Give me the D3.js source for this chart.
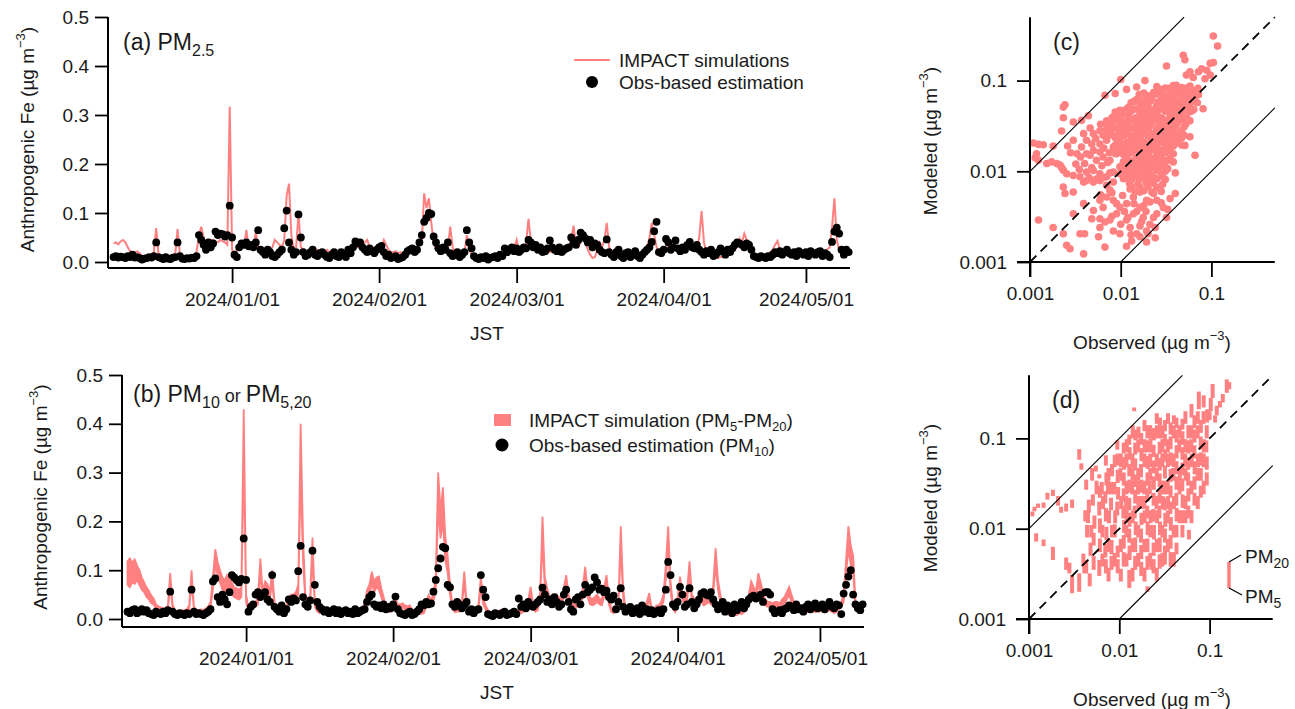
<!DOCTYPE html>
<html>
<head>
<meta charset="utf-8">
<script src="https://cdn.jsdelivr.net/npm/d3@7"></script>
<style>
  body { margin: 0; background: #fff; }
  svg { font-family: "Liberation Sans", Arial, sans-serif; }
</style>
</head>
<body>
<svg width="1295" height="709"></svg>
<script>
const svg = d3.select("svg");
const pink = "#ff8080";

// time series, ng m-3, one value every 12 h starting 2023-12-07 00:00
const obsPM25 = [
  10,12, 9,11, 10,8, 12,10, 15,9,
  10,8, 5,7, 8,10, 9,12, 40,10,
  8,6, 10,7, 6,9, 10,40, 12,7,
  6,8, 7,9, 8,12, 55,45, 35,25,
  40,30, 38,62, 55,58, 57,52, 55,115,
  50,15, 10,30, 38,35, 40,32, 35,30,
  40,65, 25,20, 15,25, 20,12, 10,15,
  20,25, 69,105, 40,25, 15,20, 97,50,
  20,12, 15,20, 25,15, 12,18, 20,15,
  10,8, 15,20, 12,10, 20,15, 10,25,
  18,30, 42,38, 40,30, 25,20, 28,22,
  18,25, 30,33, 20,12, 15,8, 10,12,
  6,8, 10,15, 22,25, 28,20, 25,40,
  55,82, 90,100, 98,52, 40,28, 22,30,
  25,40, 18,12, 15,20, 10,15, 20,65,
  40,28, 12,8, 6,10, 8,12, 5,9,
  10,12, 8,15, 12,28, 20,25, 30,22,
  28,20, 25,30, 28,45, 40,30, 35,25,
  30,20, 22,28, 44,30, 25,22, 30,20,
  25,28, 30,50, 40,35, 45,60, 55,48,
  40,45, 30,38, 35,25, 20,18, 46,20,
  15,10, 20,25, 12,8, 18,20, 10,15,
  22,12, 8,15, 20,25, 30,41, 63,82,
  20,18, 25,47, 40,25, 30,44, 28,22,
  30,25, 35,41, 30,28, 35,25, 20,15,
  22,18, 25,12, 15,20, 28,22, 15,25,
  20,28, 35,40, 38,35, 30,38, 35,25,
  12,10, 8,12, 10,8, 12,10, 15,20,
  18,22, 15,20, 25,18, 15,20, 12,22,
  18,15, 20,12, 22,18, 15,20, 22,12,
  18,15, 10,41, 62,70, 58,25, 15,25,
  20
];
const simPM25 = [
  38,40, 36,42, 45,40, 30,22, 20,18,
  22,18, 12,10, 9,8, 10,20, 69,15,
  10,8, 8,8, 9,10, 15,67, 15,10,
  8,8, 10,10, 12,20, 55,72, 50,35,
  40,45, 45,42, 40,45, 42,40, 35,317,
  25,15, 25,30, 28,30, 65,30, 30,28,
  62,30, 25,22, 20,20, 25,30, 45,40,
  35,30, 45,135, 160,55, 25,30, 100,30,
  25,22, 20,25, 22,20, 25,22, 20,22,
  25,20, 22,25, 20,18, 22,25, 20,22,
  30,35, 35,30, 30,32, 40,45, 30,22,
  20,20, 25,30, 45,35, 25,20, 20,22,
  18,20, 15,18, 15,18, 20,18, 25,35,
  40,140, 110,130, 80,40, 25,20, 20,20,
  22,30, 72,30, 18,15, 15,18, 20,55,
  25,15, 12,10, 10,12, 10,8, 10,12,
  12,10, 12,15, 15,12, 15,18, 20,30,
  45,22, 20,25, 40,88, 40,30, 30,28,
  25,30, 25,22, 20,25, 30,28, 25,22,
  20,25, 30,45, 74,35, 30,40, 58,40,
  25,15, 8,10, 25,40, 30,45, 80,30,
  20,18, 20,22, 25,20, 18,20, 22,25,
  20,18, 20,22, 25,30, 50,80, 55,30,
  20,22, 25,28, 30,25, 28,30, 25,28,
  30,25, 28,30, 25,30, 30,50, 104,40,
  20,15, 12,10, 8,8, 10,12, 12,15,
  15,20, 25,30, 48,40, 58,45, 30,25,
  20,15, 15,15, 15,12, 15,20, 25,35,
  43,25, 20,18, 20,22, 18,20, 22,18,
  20,22, 18,20, 22,20, 20,18, 22,20,
  18,25, 30,70, 130,45, 25,15, 12,15,
  20
];
const obsPM10 = [
  15,12, 18,20, 12,15, 20,15, 18,12,
  10,8, 15,12, 10,15, 12,18, 56,15,
  10,8, 12,10, 8,12, 10,60, 15,10,
  12,10, 8,12, 15,20, 77,83, 45,35,
  50,40, 30,55, 90,85, 80,75, 82,165,
  80,15, 25,30, 50,55, 45,52, 55,40,
  35,90, 25,20, 15,28, 12,20, 40,35,
  42,38, 98,150, 45,30, 25,38, 140,70,
  35,25, 20,15, 18,12, 15,20, 12,18,
  10,15, 18,12, 15,10, 20,12, 15,18,
  20,35, 45,50, 30,25, 28,22, 30,20,
  25,22, 30,46, 20,12, 10,8, 12,15,
  8,10, 15,20, 30,28, 35,30, 32,56,
  80,104, 124,148, 145,70, 65,30, 25,35,
  30,22, 28,35, 15,20, 12,18, 20,90,
  60,45, 10,8, 6,12, 10,8, 12,15,
  8,10, 12,15, 10,42, 25,30, 22,35,
  28,25, 30,35, 40,64, 50,35, 40,30,
  45,35, 25,30, 50,60, 35,20, 15,40,
  45,30, 50,70, 55,60, 65,85, 75,60,
  62,55, 58,45, 40,48, 20,35, 63,25,
  15,20, 25,12, 18,22, 10,28, 15,20,
  12,18, 10,15, 18,12, 20,60, 117,90,
  30,25, 35,66, 50,25, 30,63, 35,22,
  30,40, 52,55, 50,48, 55,40, 30,20,
  25,35, 15,28, 20,12, 30,18, 25,35,
  22,30, 40,45, 48,42, 45,50, 35,55,
  55,50, 20,12, 15,18, 12,20, 22,28,
  25,18, 30,20, 22,15, 25,30, 20,28,
  32,22, 25,30, 20,28, 35,25, 22,30,
  28,10, 52,70, 87,100, 50,30, 22,18,
  30
];
const simPM5 = [
  70,65, 75,72, 80,70, 60,55, 45,40,
  32,30, 20,18, 16,15, 15,18, 70,20,
  12,10, 10,12, 12,14, 18,75, 18,12,
  12,14, 12,15, 18,25, 60,110, 90,75,
  60,55, 60,55, 50,45, 42,40, 45,330,
  35,15, 20,25, 25,30, 95,40, 55,50,
  40,75, 25,15, 12,14, 15,18, 30,35,
  35,40, 50,290, 120,35, 25,30, 125,25,
  15,12, 14,15, 12,14, 15,12, 14,15,
  12,14, 15,12, 14,15, 12,14, 15,16,
  20,40, 45,75, 55,65, 60,45, 30,15,
  14,15, 25,30, 22,20, 22,20, 18,20,
  14,12, 10,12, 10,12, 25,35, 30,35,
  60,230, 165,200, 120,95, 50,20, 14,15,
  15,25, 75,25, 10,12, 10,12, 20,65,
  30,20, 12,10, 8,8, 10,12, 8,10,
  12,10, 8,12, 10,14, 12,15, 20,30,
  50,22, 15,18, 40,160, 60,45, 30,28,
  25,30, 30,28, 45,70, 35,25, 20,22,
  30,30, 45,85, 45,30, 28,30, 35,30,
  28,45, 70,30, 15,12, 20,25, 145,45,
  15,14, 12,14, 15,12, 14,20, 15,25,
  40,15, 14,20, 20,25, 35,80, 145,55,
  20,14, 30,65, 40,25, 40,90, 35,30,
  28,30, 35,28, 30,35, 30,50, 110,60,
  35,20, 12,10, 8,10, 10,8, 12,10,
  14,20, 35,58, 45,40, 70,55, 40,28,
  25,25, 22,25, 25,22, 28,30, 40,50,
  35,25, 15,14, 15,18, 15,14, 18,15,
  14,15, 15,18, 14,15, 18,15, 12,15,
  20,25, 35,90, 145,110, 95,25, 15,15,
  20
];
const simPM20 = [
  118,124, 115,122, 110,100, 85,75, 65,58,
  48,42, 30,26, 24,22, 22,28, 94,30,
  18,16, 16,18, 18,20, 28,100, 26,18,
  18,20, 18,22, 25,35, 85,143, 117,100,
  85,80, 90,82, 75,65, 63,60, 65,430,
  50,25, 30,35, 35,45, 124,55, 77,72,
  55,100, 35,22, 20,20, 22,25, 45,50,
  50,55, 70,400, 170,50, 38,45, 167,35,
  22,20, 20,22, 18,20, 22,18, 20,22,
  18,20, 22,18, 20,22, 18,22, 22,24,
  30,60, 70,97, 77,85, 87,63, 45,22,
  20,22, 35,42, 30,30, 32,28, 26,28,
  20,18, 15,16, 15,18, 35,49, 40,49,
  90,300, 220,270, 170,130, 70,30, 20,22,
  22,35, 97,35, 15,18, 15,18, 30,87,
  42,28, 18,15, 12,12, 15,18, 12,14,
  18,14, 12,18, 14,20, 18,22, 28,40,
  66,32, 22,25, 55,210, 85,63, 45,40,
  35,50, 45,40, 65,90, 50,35, 30,32,
  42,42, 65,107, 63,45, 40,45, 50,42,
  40,65, 90,42, 22,18, 30,35, 190,63,
  22,20, 18,20, 22,18, 20,28, 22,35,
  53,22, 20,28, 28,35, 50,110, 190,77,
  30,20, 45,87, 55,35, 60,118, 50,42,
  40,45, 50,40, 45,50, 42,70, 145,80,
  50,28, 18,15, 12,14, 15,12, 18,15,
  20,30, 50,77, 66,55, 94,75, 55,40,
  35,35, 32,35, 35,32, 40,45, 55,66,
  50,35, 22,20, 22,26, 22,20, 26,22,
  20,22, 22,26, 20,22, 26,22, 18,22,
  28,35, 50,120, 190,150, 130,35, 22,22,
  28
];

// scatter (c): [observed, modeled] PM2.5, ng m-3
const scatterPM25 = [
  [1.09,20.5],[1.24,19.8],[1.4,19.6],[1.18,15.6],[1.14,14.1],[1.24,13.2],[1.53,12.2],[1.73,12.7],[1.97,12.2],[1.8,19],
  [2.23,27.8],[2.33,39],[2.43,54],[2.33,51],[3.0,35],[3.7,36.5],[4.4,41],[6.7,69],[8.7,72],[11.6,80],
  [10,103],[15,85],[18.5,100],[19.3,66],[2.14,11.7],[2.23,11.0],[2.33,10.3],[2.54,9.4],[3.0,9.0],[3.9,7.6],
  [2.33,6.7],[2.43,5.7],[3.0,5.9],[3.9,4.4],[3.0,3.4],[1.24,2.9],[1.8,2.4],[2.33,2.05],[2.54,1.53],[2.76,1.4],
  [3.56,2.05],[4.0,2.05],[3.9,1.23],[4.8,3.0],[5.9,3.0],[6.7,2.76],[7.6,2.9],[5.7,1.9],[6.7,1.46],[11.6,1.49],
  [13.2,1.7],[16.3,2.5],[19.3,2.2],[19.3,1.66],[24,1.85],[32,3.1],[40,5.7],[40,9.6],[66,15],[81,49],
  [51,19.3],[32,22],[105,310],[117,240],[49,190],[51,170],[105,158],[97,155],[32,145],[78,135],
  [89,130],[72,125],[58,125],[53,115],[97,115],[63,108],[41,89],[85,105],
  [5.9,4.8],[7,5.2],[8.3,4.8],[9.8,4.0],[11.6,4.4],[13.8,5.2],[16.3,4.0],[19.3,4.8],[23,5.7],[25,3.4],
  [13.8,3.4],[17.7,3.1],[9,3.4],[11.6,2.9],[15,2.05],[12.7,2.4],[21,2.6],[23,3.1],[16.3,5.9],[12.7,6.4],
  [27,6.7],[29.5,4.0],[21,7.9],[25,4.8],[7.6,6.2],[6.4,4.0],[5,3.7],[5.9,2.4],[8.3,2.2],[9.8,2.05],
  [16.3,1.9],[20,2.05],
  [6,5.5],[8,5.8],[10.5,5.4],[9,4.4],[14,4.4],[18,4.2],[21,4.6],[11,3.6],[15,3.6],[19,3.6],
  [28,4.5],[33,3.8],[35,5.0],[8,3.2],[12,3.1],[17,2.8],[24,2.4],[13,2.0],[10,2.6],
  [3.56,8.7],[4.2,7.9],[5,7.6],[5.9,7.9],[7,8.7],[8.3,7.6],[9.8,9.4],[5,10.2],[5.9,9.4],[4.2,9.8],
  [7,7],[8.3,9.8],[4,12.2],[5.4,13.2],[6.4,14.4],[4.6,15],[3.7,18.5],[4.2,22],[5,26],[5.9,28],
  [7,33.5],[8.3,39.6],[5.9,20],[7,22],[8.3,18.5],[5.9,16.3],[7.6,13.2],[9,15.6],[9.8,11.2],[3.9,26],
  [3.3,15.6],[4.2,15.6],[3.0,22],[3.6,14.4],[4.8,20],[9.8,47],
  [4.5,8.5],[5.4,8.2],[6.4,8.5],[7.6,9.6],[4.8,11],[6.2,11.5],[7.2,12.5],[5,17],[6.5,18],[7.5,16],
  [5.3,23],[6.4,25],[7.6,27],[4.6,30],[6,33],[8,30],[3.5,10.5],[3.2,12],[2.8,16],[2.6,19],
  [25,86],[31,83],[38,88],[47,84],[58,87],[71,82],[28,76],[35,78],[42,75],[52,79],[65,77],
  [16,70],[20,68],[25,71],[31,67],[38,70],[47,69],[58,66],[72,70],
  [15,62],[18,60],[22,63],[28,61],[35,64],[42,60],[52,62],[65,61],
  [13,57],[16.5,55],[20,56],[25,54],[31,57],[38,55],[47,56],[58,54],[70,57],
  [12,50],[15,49],[18,51],[22,48],[28,50],[35,52],[42,49],[52,50],[64,48],
  [8.7,45],[10.8,44],[13,46],[16.3,43],[20,45],[25,44],[31,46],[38,45],[47,43],[57,45],
  [9.7,40],[12,41],[14.8,39],[18,41],[22,40],[28,39],[35,41],[42,40],[52,39],
  [7,36],[8.7,37],[10.7,35],[13.2,37],[16.3,36],[20,35],[25,37],[31,36],[38,35],[47,37],[58,36],
  [7.8,33],[9.7,32],[11.8,34],[14.8,33],[18,32],[22,34],[28,33],[35,32],[42,34],[52,33],
  [7,29],[8.7,30],[10.7,29],[13.2,30],[16.3,28.5],[20,30],[25,29],[31,30],[38,29],[47,28.5],
  [7.8,26.5],[9.7,26],[11.8,27],[14.8,26],[18,27],[22,26],[28,26.5],[35,27],[42,26],
  [7,24],[8.7,23.5],[10.7,24.5],[13.2,23.5],[16.3,24],[20,24.5],[25,23.5],[31,24],[38,24.5],[47,23.5],[58,24],
  [9.7,21.5],[11.8,21],[14.8,22],[18,21],[22,21.5],[28,22],[35,21],[42,21.5],
  [8.7,19.4],[10.7,19],[13.2,19.8],[16.3,19],[20,19.6],[25,19.2],[31,19.8],[38,19],[47,19.5],
  [9.7,17.5],[11.8,17.2],[14.8,17.8],[18,17.3],[22,17.6],[28,17.2],[35,17.8],
  [8.7,15.7],[10.7,15.4],[13.2,16],[16.3,15.5],[20,15.8],[25,15.4],[31,16],[38,15.6],
  [11.8,14],[14.8,13.8],[18,14.2],[22,13.8],[28,14.1],[35,13.9],
  [10.7,12.7],[13.2,12.5],[16.3,12.9],[20,12.5],[25,12.8],[31,12.6],[38,12.7],
  [11.8,11.4],[14.8,11.2],[18,11.6],[22,11.3],[28,11.5],
  [10.7,10.2],[13.2,10],[16.3,10.4],[20,10.1],[25,10.3],[31,10],
  [11.8,9.2],[14.8,9],[18,9.3],[22,9.1],[28,9.2],
  [10.7,8.3],[13.2,8.1],[16.3,8.4],[20,8.2],[25,8.3],[31,8.1],
  [13.2,6.7],[16.3,6.6],[20,6.8],[25,6.6],
  [27,80],[34,82],[43,81],[53,83],[18,73],[23,74],[29,72],[36,73],[44,72],[55,74],[66,73],
  [14,59],[17.5,58],[21,59],[26,58],[32,59],[40,58],[49,58],[60,59],
  [11,47],[13.8,48],[17,47],[21,47],[26,47],[32,48],[40,47],[49,47],[60,46],
  [8,39],[10,38],[12.5,39],[15.5,38],[19,38],[23,39],[29,38],[36,38],[44,38],[54,38],
  [7.4,31],[9.2,31],[11.3,31.5],[14,31],[17,31],[21,31.5],[26,31],[33,31],[40,31.5],[50,31],
  [7.4,25],[9.2,25],[11.3,25.5],[14,25],[17,25.5],[21,25],[26,25],[33,25.5],[40,25],[50,25],
  [9.2,20.3],[11.3,20],[14,20.5],[17,20],[21,20.3],[26,20.5],[33,20],[40,20.3],
  [9.2,16.6],[11.3,16.4],[14,16.8],[17,16.4],[21,16.7],[26,16.4],[33,16.8],
  [11.3,13.3],[14,13.1],[17,13.5],[21,13.2],[26,13.4],[33,13.2],
  [11.3,10.8],[14,10.6],[17,11],[21,10.7],[26,10.9],[33,10.7],
  [12.5,8.7],[15.5,8.6],[19,8.8],[23,8.6],[29,8.7],
  [12.5,7.4],[15.5,7.3],[19,7.5],[23,7.4],[29,7.2],
  [14.5,6],[18,6.1],[22,5.9],[28,6]
];

// scatter (d): [observed PM10, modeled PM5, modeled PM20], ng m-3
const scatterPM10 = [
  [3.6,58,76],[3.8,45,53],[3.6,2.0,3.2],[4.3,27,35],[4.3,3.2,4.5],[4.4,8,11],[4.2,12,16],
  [4.7,2.3,3.2],[4.8,5,7],[4.6,15,21],[5.2,3.5,5],[5.2,6.5,9],[5.3,10,14],[5.1,18,24],[5.5,43,50],
  [6,3,4.5],[6.1,5.5,7.8],[6,36,40],[6.1,9,13],[6.0,14,20],[6.1,22,30],
  [7.1,3.2,4.6],[7,4.8,6.8],[7.2,7.5,10.5],[7.1,12,17],[7,19,26],[7.2,30,42],[7.1,50,65],
  [8.2,3.5,5],[8.2,5.2,7.5],[8.3,8,11],[8.1,16,22],[8.2,24,33],[8.3,38,52],
  [9.6,3.2,4.6],[9.6,4.8,6.5],[9.5,14,20],[9.7,21,29],[9.6,32,45],[9.6,50,68],[9.5,75,95],
  [11.2,3.8,5.5],[11.2,6,8.5],[11.3,9,12.5],[11.1,13,18],[11.2,20,28],[11.2,30,42],[11.3,45,62],[11.2,68,90],
  [12.9,2.2,3.5],[13,4.5,6.5],[12.9,7,10],[13,10.5,15],[12.9,16,22],[13,25,35],[12.9,38,52],[13,58,80],[12.9,85,110],
  [14.6,200,220],[15,3.5,5],[15,5.5,8],[15.2,8.5,12],[14.8,13,18],[15,19,27],[15.1,29,40],[15,44,60],[15,66,90],[15.1,95,125],
  [17.5,3,4.3],[17.5,4.6,6.6],[17.4,7,10],[17.6,11,15],[17.5,16.5,23],[17.5,25,35],[17.4,37,52],[17.6,56,78],[17.5,85,115],
  [20.5,2,2.3],[20.5,3.5,5],[20.5,5.5,7.8],[20.6,8.5,12],[20.4,13,18],[20.5,20,28],[20.5,30,42],[20.6,46,64],[20.4,70,95],[20.5,100,140],
  [24,3.2,4.6],[24,5,7],[24.2,7.6,11],[23.8,12,16.5],[24,18,25],[24.1,27,38],[24,41,57],[24,62,85],[24.1,95,130],
  [28,3.6,5.2],[28,5.5,8],[28.2,8.5,12],[27.8,13,18],[28,19,27],[28,29,41],[28.1,44,61],[28,67,92],[28,100,140],[28.2,140,170],
  [32,4.5,6.5],[32,7,10],[32.3,10.5,15],[31.8,16,22],[32,24,34],[32,36,50],[32.2,55,76],[32,82,112],[32,120,160],
  [37,3.8,5.5],[37,6,8.5],[37.2,9.5,13.5],[36.8,14.5,20],[37,22,30],[37,33,46],[37.1,50,70],[37,76,105],[37,110,150],
  [43,5.2,7],[43,8,11],[43.2,12,17],[42.8,18,25],[43,27,38],[43,40,56],[43.1,60,84],[43,90,125],[43,130,170],
  [50,8,11],[50,11.5,16],[50.3,17,24],[49.8,26,36],[50,39,54],[50,58,80],[50.1,85,120],[50,125,165],
  [59,7.6,9.7],[58,13,18],[58.2,20,28],[57.8,30,42],[58,45,62],[58,68,95],[58.1,100,140],
  [68,18,25],[68,27,38],[68.3,40,56],[67.8,60,84],[68,90,125],[68,130,180],
  [80,22,30],[80,34,47],[80.2,50,70],[79.8,75,105],[80,115,160],
  [93,30,42],[93,45,63],[92,70,95],[93,100,140],[94,150,210],
  [103,200,280],[108,280,400],[76,210,330],[120,180,230],[115,150,180],[155,320,450],[165,350,420],[140,250,310],[130,220,260],[100,160,200],
  [1.09,13.7,15.5],[1.15,15.6,17.5],[1.26,17,19],[1.45,17,19.5],[1.6,21,25],[1.84,23,27],[2.1,18,23],[2.27,15,17.5],[2.58,15.5,19],[3,17,21],
  [1.2,7.2,8.9],[1.45,6.4,7.6],[1.84,4.5,6.3],[2.58,3.5,4.8],[2.8,3.2,4.2],[3,1.93,3.1],[4.1,3.2,4.5],
  [23,3.5,4.2],[32,4,5.5],[40,4.2,5.5],
  [6.5,3.8,5.3],[6.5,8,11],[6.6,16.5,23],[6.4,24,33],
  [7.6,2.6,3.7],[7.6,5.5,7.7],[7.7,11.5,16],[7.5,24,34],[7.6,34,47],
  [8.9,3.8,5.4],[8.9,8,11.2],[9,11.5,16],[8.8,24,33],[8.9,48,66],
  [10.4,2.6,3.6],[10.4,5.5,7.7],[10.5,16.5,23],[10.3,34,47],[10.4,48,68],
  [12,3.8,5.3],[12,8,11],[12.1,11.5,16.5],[11.9,16.5,23],[12,24,34],[12,48,68],[12.1,70,98],
  [14,2.6,3.7],[14,5.5,7.8],[14.1,11.5,16],[13.9,24,34],[14,34,48],[14,48,68],[14.1,100,140],
  [16.2,3.8,5.4],[16.2,8,11],[16.3,16.5,23],[16.1,24,34],[16.2,34,47],[16.2,70,98],[16.3,100,135],
  [19,2.6,3.7],[19,5.5,7.7],[19.1,11.5,16],[18.9,16.5,23],[19,24,34],[19,48,68],[19.1,70,98],[19,120,160],
  [22,3.8,5.4],[22,8,11],[22.2,11.5,16],[21.8,24,34],[22,34,47],[22,48,68],[22.1,70,100],[22,100,140],
  [26,2.6,3.7],[26,5.5,7.7],[26.2,11.5,16],[25.8,16.5,23],[26,34,47],[26,48,68],[26.1,100,140],[26,145,190],
  [30,3.8,5.4],[30,8,11],[30.3,16.5,23],[29.7,24,34],[30,48,68],[30,70,98],[30.2,100,140],
  [34.5,5.5,7.7],[34.5,11.5,16],[34.7,16.5,23],[34.3,24,34],[34.5,48,68],[34.5,70,98],[34.6,145,190],
  [40,3.8,5.4],[40,8,11],[40.3,16.5,23],[39.7,34,47],[40,48,68],[40,100,140],[40.2,145,180],
  [46.5,11.5,16],[46.5,24,34],[46.8,34,47],[46.2,70,98],[46.5,100,140],
  [54,11.5,16],[54,16.5,23],[54.3,34,47],[53.7,48,68],[54,70,98],[54,145,200],
  [63,11.5,16],[63,24,34],[63.3,48,68],[62.7,70,98],[63,100,140],[63,170,240],
  [74,16.5,23],[74,34,47],[74.3,48,68],[73.7,100,140],[74,145,200],
  [86,24,34],[86,48,68],[86.3,70,98],[85.7,145,200],[86,220,300],
  [4,3.8,5.3],[4.5,11.5,16],[5.6,24,34],[5,34,47],[4.9,8,11]
];

const xTickDates = ["2024-01-01", "2024-02-01", "2024-03-01", "2024-04-01", "2024-05-01"];
const yTicksTS = [0, 0.1, 0.2, 0.3, 0.4, 0.5];
const logTicks = [0.001, 0.01, 0.1];
const refRatios = [10, 1, 0.1];

const t0 = Date.UTC(2023, 11, 7);
const timeOf = i => new Date(t0 + i * 12 * 3600 * 1000);
const tsDomain = [new Date(Date.UTC(2023, 11, 5, 20)), new Date(Date.UTC(2024, 4, 10, 7))];
const fmtDate = d3.utcFormat("%Y/%m/%d");

// writes text made of plain / sub / sup pieces
function rich(sel, parts) {
  parts.forEach(p => {
    const t = sel.append("tspan").text(p.t);
    if (p.size) t.attr("font-size", p.size);
    if (p.dy) t.attr("dy", p.dy);
  });
  return sel;
}
const unitParts = [{ t: " (µg m" }, { t: "−3", size: 13, dy: -9 }, { t: ")", size: 19, dy: 9 }];

function styleAxis(g) {
  g.select(".domain").remove();
  g.selectAll(".tick line").attr("stroke", "#000").attr("stroke-width", 1.8);
  g.selectAll(".tick text").attr("font-size", 19).attr("fill", "#1a1a1a")
    .attr("font-family", '"Liberation Sans", Arial, sans-serif');
}

function timeSeries(o) {
  const x = d3.scaleUtc().domain(tsDomain).range([o.left, o.right]);
  const y = d3.scaleLinear().domain([0, 0.5]).range([o.zero, o.top]);
  const g = svg.append("g");

  if (o.sim) {
    g.append("path").datum(o.sim)
      .attr("d", d3.line().x((d, i) => x(timeOf(i))).y(d => y(d / 1000)))
      .attr("fill", "none").attr("stroke", pink).attr("stroke-width", 2);
  } else {
    const band = o.lo.map((d, i) => [i, d, o.hi[i]]);
    g.append("path").datum(band)
      .attr("d", d3.area().x(d => x(timeOf(d[0]))).y0(d => y(d[1] / 1000)).y1(d => y(d[2] / 1000)))
      .attr("fill", pink).attr("stroke", pink).attr("stroke-width", 1.8);
  }

  g.selectAll("circle").data(o.obs).join("circle")
    .attr("cx", (d, i) => x(timeOf(i)))
    .attr("cy", d => y(d / 1000))
    .attr("r", 3.9).attr("fill", "#000");

  const gx = svg.append("g").attr("transform", `translate(0,${o.axisY})`)
    .call(d3.axisBottom(x).tickValues(xTickDates.map(s => new Date(s + "T00:00:00Z")))
      .tickFormat(fmtDate).tickSize(15).tickPadding(10));
  styleAxis(gx);
  const gy = svg.append("g").attr("transform", `translate(${o.left},0)`)
    .call(d3.axisLeft(y).tickValues(yTicksTS).tickFormat(d3.format(".1f")).tickSize(13).tickPadding(6));
  styleAxis(gy);

  svg.append("line").attr("x1", o.left).attr("x2", o.right).attr("y1", o.axisY).attr("y2", o.axisY)
    .attr("stroke", "#000").attr("stroke-width", 2);
  svg.append("line").attr("x1", o.left).attr("x2", o.left).attr("y1", y(0.5)).attr("y2", o.axisY)
    .attr("stroke", "#000").attr("stroke-width", 2);

  rich(svg.append("text")
    .attr("transform", `translate(${o.titleX},${(o.zero + o.top) / 2}) rotate(-90)`)
    .attr("text-anchor", "middle").attr("dy", "0.35em").attr("font-size", 19).attr("fill", "#1a1a1a"),
    [{ t: "Anthropogenic Fe" }].concat(unitParts));

  svg.append("text").attr("x", o.jstX).attr("y", o.jstY).attr("text-anchor", "middle")
    .attr("dy", "0.35em").attr("font-size", 19).attr("fill", "#1a1a1a").text("JST");
  return { x, y };
}

timeSeries({ left: 108, right: 850, zero: 262, top: 17, axisY: 268, titleX: 27, jstX: 487, jstY: 333,
  obs: obsPM25, sim: simPM25 });
timeSeries({ left: 122, right: 864, zero: 619, top: 375, axisY: 627, titleX: 40, jstX: 497, jstY: 692,
  obs: obsPM10, lo: simPM5, hi: simPM20 });

// panel labels
rich(svg.append("text").attr("x", 123).attr("y", 50).attr("font-size", 23).attr("fill", "#1a1a1a"),
  [{ t: "(a) PM" }, { t: "2.5", size: 16, dy: 6 }]);
rich(svg.append("text").attr("x", 133).attr("y", 402).attr("font-size", 23).attr("fill", "#1a1a1a"),
  [{ t: "(b) PM" }, { t: "10", size: 16, dy: 6 }, { t: " or ", size: 18, dy: -6 }, { t: "PM", size: 23 }, { t: "5,20", size: 16, dy: 6 }]);

// legend (a)
svg.append("line").attr("x1", 574).attr("x2", 610).attr("y1", 60).attr("y2", 60)
  .attr("stroke", pink).attr("stroke-width", 2);
svg.append("circle").attr("cx", 592).attr("cy", 82).attr("r", 6).attr("fill", "#000");
svg.append("text").attr("x", 619).attr("y", 60).attr("dy", "0.35em").attr("font-size", 19).attr("fill", "#1a1a1a")
  .text("IMPACT simulations");
svg.append("text").attr("x", 619).attr("y", 82).attr("dy", "0.35em").attr("font-size", 19).attr("fill", "#1a1a1a")
  .text("Obs-based estimation");

// legend (b)
svg.append("rect").attr("x", 494).attr("y", 414).attr("width", 17).attr("height", 12).attr("fill", pink);
svg.append("circle").attr("cx", 502).attr("cy", 445).attr("r", 6.5).attr("fill", "#000");
rich(svg.append("text").attr("x", 529).attr("y", 420).attr("dy", "0.35em").attr("font-size", 19).attr("fill", "#1a1a1a"),
  [{ t: "IMPACT simulation (PM" }, { t: "5", size: 13, dy: 4 }, { t: "-PM", size: 19, dy: -4 }, { t: "20", size: 13, dy: 4 }, { t: ")", size: 19, dy: -4 }]);
rich(svg.append("text").attr("x", 529).attr("y", 445).attr("dy", "0.35em").attr("font-size", 19).attr("fill", "#1a1a1a"),
  [{ t: "Obs-based estimation (PM" }, { t: "10", size: 13, dy: 4 }, { t: ")", size: 19, dy: -4 }]);

// scatter panels
function scatterPanel(o) {
  const x = d3.scaleLog().domain([0.001, 0.5]).range([o.left, o.left + o.dec * Math.log10(500)]);
  const y = d3.scaleLog().domain([0.001, 0.5]).range([o.bottom, o.bottom - o.dec * Math.log10(500)]);
  const g = svg.append("g");

  if (o.bars) {
    g.selectAll("line").data(o.bars).join("line")
      .attr("x1", d => x(d[0] / 1000)).attr("x2", d => x(d[0] / 1000))
      .attr("y1", d => y(d[1] / 1000)).attr("y2", d => y(d[2] / 1000))
      .attr("stroke", pink).attr("stroke-width", 4);
  } else {
    g.selectAll("circle").data(o.points).join("circle")
      .attr("cx", d => x(d[0] / 1000)).attr("cy", d => y(d[1] / 1000))
      .attr("r", 3.8).attr("fill", pink);
  }

  refRatios.forEach(r => {
    const xa = Math.max(0.001, 0.001 / r), xb = Math.min(0.5, 0.5 / r);
    svg.append("line")
      .attr("x1", x(xa)).attr("y1", y(xa * r)).attr("x2", x(xb)).attr("y2", y(xb * r))
      .attr("stroke", "#000").attr("stroke-width", r === 1 ? 1.8 : 1.1)
      .attr("stroke-dasharray", r === 1 ? "9,6" : null);
  });

  const gx = svg.append("g").attr("transform", `translate(0,${o.bottom})`)
    .call(d3.axisBottom(x).tickValues(logTicks).tickFormat(d3.format("")).tickSize(15).tickPadding(10));
  styleAxis(gx);
  const gy = svg.append("g").attr("transform", `translate(${o.left},0)`)
    .call(d3.axisLeft(y).tickValues(logTicks).tickFormat(d3.format("")).tickSize(13).tickPadding(10));
  styleAxis(gy);

  svg.append("line").attr("x1", o.left - 13).attr("x2", x(0.5)).attr("y1", o.bottom).attr("y2", o.bottom)
    .attr("stroke", "#000").attr("stroke-width", 2);
  svg.append("line").attr("x1", o.left).attr("x2", o.left).attr("y1", y(0.5)).attr("y2", o.bottom + 15)
    .attr("stroke", "#000").attr("stroke-width", 2);

  svg.append("text").attr("x", o.left + 23).attr("y", y(0.5) + 33).attr("font-size", 23).attr("fill", "#1a1a1a")
    .text(o.label);
  rich(svg.append("text").attr("x", 1152).attr("y", o.bottom + 80).attr("text-anchor", "middle")
    .attr("dy", "0.35em").attr("font-size", 19).attr("fill", "#1a1a1a"),
    [{ t: "Observed" }].concat(unitParts));
  rich(svg.append("text")
    .attr("transform", `translate(930,${o.bottom - 121}) rotate(-90)`)
    .attr("text-anchor", "middle").attr("dy", "0.35em").attr("font-size", 19).attr("fill", "#1a1a1a"),
    [{ t: "Modeled" }].concat(unitParts));
}

scatterPanel({ left: 1030, bottom: 262, dec: 90.7, label: "(c)", points: scatterPM25 });
scatterPanel({ left: 1029, bottom: 619, dec: 90.3, label: "(d)", bars: scatterPM10 });

// PM5 / PM20 key in (d)
svg.append("line").attr("x1", 1229).attr("x2", 1229).attr("y1", 562).attr("y2", 588)
  .attr("stroke", pink).attr("stroke-width", 3.5);
svg.append("line").attr("x1", 1229).attr("y1", 562).attr("x2", 1241).attr("y2", 555)
  .attr("stroke", "#000").attr("stroke-width", 1.2);
svg.append("line").attr("x1", 1229).attr("y1", 588).attr("x2", 1242).attr("y2", 595)
  .attr("stroke", "#000").attr("stroke-width", 1.2);
rich(svg.append("text").attr("x", 1245).attr("y", 556).attr("dy", "0.35em").attr("font-size", 19).attr("fill", "#1a1a1a"),
  [{ t: "PM" }, { t: "20", size: 14, dy: 5 }]);
rich(svg.append("text").attr("x", 1245).attr("y", 596).attr("dy", "0.35em").attr("font-size", 19).attr("fill", "#1a1a1a"),
  [{ t: "PM" }, { t: "5", size: 14, dy: 5 }]);
</script>
</body>
</html>
